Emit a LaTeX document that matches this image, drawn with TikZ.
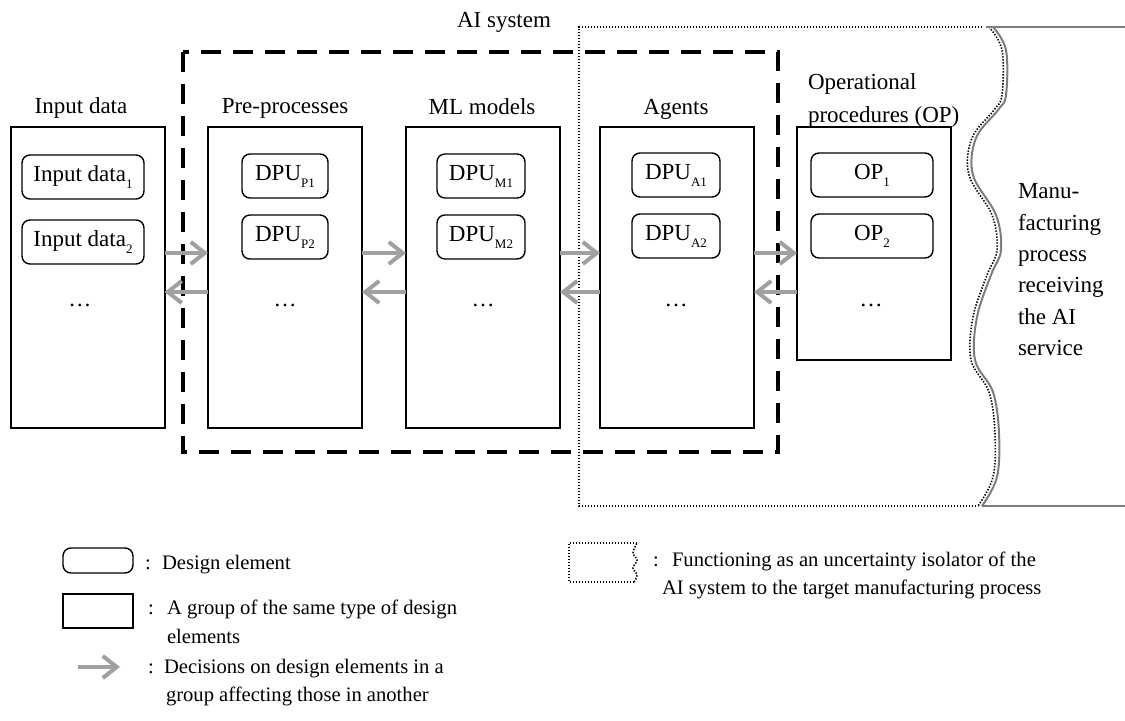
\documentclass[tikz,border=0pt]{standalone}
\usepackage{fontspec}
\setmainfont{Liberation Serif}
\usetikzlibrary{arrows.meta,calc}
\newcommand\lowsub[1]{\raisebox{-3.5pt}{\fontsize{6.5}{7}\selectfont #1}}
\definecolor{flowgray}{RGB}{160,160,160}
\definecolor{edgegray}{RGB}{125,125,125}
\begin{document}
\begin{tikzpicture}[x=0.5pt,y=-0.5pt,
  every node/.style={font=\fontsize{11.5}{14}\selectfont, inner sep=0pt, outer sep=0pt},
  lfont/.style={font=\fontsize{10.3}{12}\selectfont},
  groupbox/.style={draw, line width=1pt, minimum width=77pt},
  elembox/.style={draw, line width=0.7pt, rounded corners=4pt, minimum height=22pt},
  flow/.style={draw=flowgray, line width=2pt, -{Straight Barb[length=7pt,width=11pt]}},
  aibox/.style={draw, line width=2pt, dash pattern=on 10pt off 6pt},
  dotline/.style={draw, line width=0.8pt, dash pattern=on 0.7pt off 0.8pt},
  edgeline/.style={draw=edgegray, line width=1pt},
  title/.style={anchor=base}]
\useasboundingbox (0,0) rectangle (1125,721);

% AI system boundary (dashed)
\draw[aibox] (183,52) rectangle (778,452);
\node[title] (aisys) at (504,28) {AI system};

% isolator region: dotted outline with wavy right edge
\draw[dotline] (982,27) -- (579,27) -- (579,506) -- (978,506);
\draw[dotline, shift={(-4,0)}] plot[smooth, tension=0.6] coordinates {(993,27) (1006,50) (1006,95) (998,110) (976,138) (973,175) (996,215) (1001,250) (991,275) (977,317) (975,360) (993,392) (999,433) (997,477) (982,506)};

% manufacturing process boundary
\draw[edgeline] (986,27) -- (1125,27);
\draw[edgeline] (982,506) -- (1125,506);
\draw[edgeline] plot[smooth, tension=0.6] coordinates {(993,27) (1006,50) (1006,95) (998,110) (976,138) (973,175) (996,215) (1001,250) (991,275) (977,317) (975,360) (993,392) (999,433) (997,477) (982,506)};

% groups of design elements
\node[groupbox, minimum height=150.5pt] (inp) at (87.5,277.5) {};
\node[groupbox, minimum height=150.5pt] (pre) at (285,277.5) {};
\node[groupbox, minimum height=150.5pt] (ml)  at (483,277.5) {};
\node[groupbox, minimum height=150.5pt] (ag)  at (677,277.5) {};
\node[groupbox, minimum height=116.5pt] (op)  at (874,243.5) {};

% group titles
\node[title] (tinp) at (81,114) {Input data};
\node[title] (tpre) at (285,114) {Pre-processes};
\node[title] (tml)  at (482,115) {ML models};
\node[title] (tag)  at (676,115) {Agents};
\node[anchor=base west] (top1) at (808,90) {Operational};
\node[anchor=base west] (top2) at (808,123) {procedures (OP)};

% design elements
\node[elembox, minimum width=61pt] (in1) at (83,177) {Input data\lowsub{1}};
\node[elembox, minimum width=61pt] (in2) at (83,242) {Input data\lowsub{2}};
\node[elembox, minimum width=43pt] (p1) at (285,176) {DPU\lowsub{P1}};
\node[elembox, minimum width=43pt] (p2) at (285,237) {DPU\lowsub{P2}};
\node[elembox, minimum width=44pt] (m1) at (481,176) {DPU\lowsub{M1}};
\node[elembox, minimum width=44pt] (m2) at (481,237) {DPU\lowsub{M2}};
\node[elembox, minimum width=44pt] (a1) at (676,175) {DPU\lowsub{A1}};
\node[elembox, minimum width=44pt] (a2) at (676,236) {DPU\lowsub{A2}};
\node[elembox, minimum width=61pt] (o1) at (872,175) {OP\lowsub{1}};
\node[elembox, minimum width=61pt] (o2) at (872,236) {OP\lowsub{2}};

% ellipses for further elements
\node[title] (dinp) at (80,307) {\dots};
\node[title] (dpre) at (285,307) {\dots};
\node[title] (dml)  at (483,307) {\dots};
\node[title] (dag)  at (676,307) {\dots};
\node[title] (dop)  at (871,307) {\dots};

% decision influences between groups
\coordinate (fw) at (0,253);
\coordinate (bw) at (0,292);
\draw[flow] (inp.east |- fw) -- (pre.west |- fw);
\draw[flow] (pre.west |- bw) -- (inp.east |- bw);
\draw[flow] (pre.east |- fw) -- (ml.west |- fw);
\draw[flow] (ml.west |- bw) -- (pre.east |- bw);
\draw[flow] (ml.east |- fw) -- (ag.west |- fw);
\draw[flow] (ag.west |- bw) -- (ml.east |- bw);
\draw[flow] (ag.east |- fw) -- (op.west |- fw);
\draw[flow] (op.west |- bw) -- (ag.east |- bw);

% manufacturing process label
\foreach \txt/\yy [count=\i] in {Manu-/199, facturing/231, process/262, receiving/293, the AI/325, service/356}
  \node[anchor=base west] (mp\i) at (1018,\yy) {\txt};

% legend
\node[elembox, minimum width=35pt, minimum height=12.5pt] (lelem) at (98,560.5) {};
\node[lfont, anchor=base west] (lc1) at (145,569) {:};
\node[lfont, anchor=base west] (lt1) at (162,569) {Design element};

\node[groupbox, minimum width=35pt, minimum height=17pt] (lgrp) at (98,611) {};
\node[lfont, anchor=base west] (lc2) at (148,615) {:};
\node[lfont, anchor=base west] (lt2a) at (167,615) {A group of the same type of design};
\node[lfont, anchor=base west] (lt2b) at (167,643) {elements};

\coordinate (la1) at (78,667);
\coordinate (la2) at (120,667);
\draw[flow] (la1) -- (la2);
\node[lfont, anchor=base west] (lc3) at (148,673) {:};
\node[lfont, anchor=base west] (lt3a) at (164,673) {Decisions on design elements in a};
\node[lfont, anchor=base west] (lt3b) at (166,701) {group affecting those in another};

\draw[dotline] (637,543) -- (569,543) -- (569,582) -- (634,582);
\draw[dotline] plot[smooth, tension=0.6] coordinates {(634,582) (637,575) (633,568) (637,560) (633,553) (637,543)};
\node[lfont, anchor=base west] (lc4) at (653,567) {:};
\node[lfont, anchor=base west] (lt4a) at (672,567) {Functioning as an uncertainty isolator of the};
\node[lfont, anchor=base west] (lt4b) at (662,595) {AI system to the target manufacturing process};
\end{tikzpicture}
\end{document}
